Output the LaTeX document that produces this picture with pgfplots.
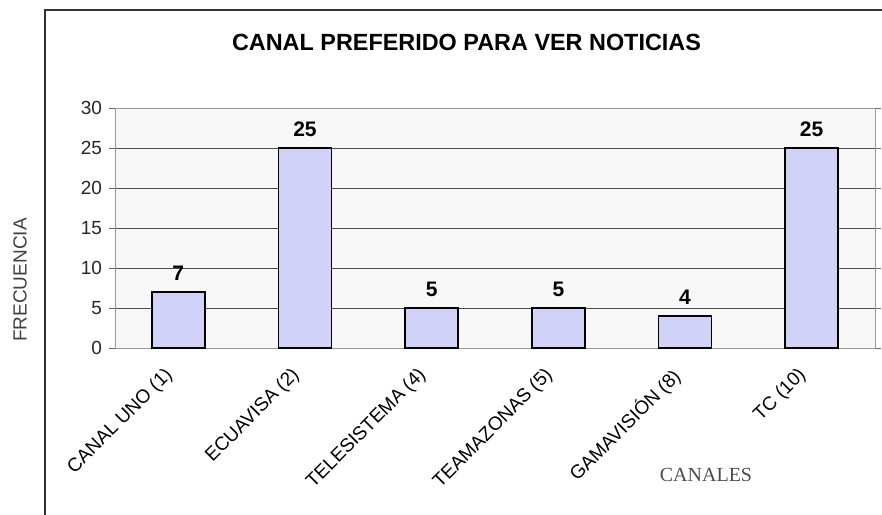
\documentclass[border=0pt]{standalone}
\usepackage{pgfplots}
\pgfplotsset{compat=1.18}
\usepackage{fontspec}
\setmainfont{Liberation Sans}
\newfontfamily\serifcanal{Liberation Serif}
\definecolor{barfill}{RGB}{208,210,248}
\definecolor{plotbg}{RGB}{248,248,248}
\begin{document}
\begin{tikzpicture}
\useasboundingbox (-57.5pt,-83pt) rectangle (383.5pt,174pt);
\draw[line width=0.8pt, black!80] (-35pt,-95pt) -- (-35pt,169pt) -- (395pt,169pt);
\begin{axis}[
  at={(0,0)}, anchor=south west,
  width=380pt, height=120pt, scale only axis,
  xmin=-0.5, xmax=5.5, ymin=0, ymax=30,
  ytick={0,5,10,15,20,25,30},
  xtick={0,1,2,3,4,5},
  xticklabels={CANAL UNO (1),ECUAVISA (2),TELESISTEMA (4),TEAMAZONAS (5),GAMAVISIÓN (8),TC (10)},
  xticklabel style={rotate=45, anchor=north east, font=\fontsize{9.5}{11}\selectfont, xshift=-6pt, yshift=4.6pt},
  yticklabel style={font=\fontsize{9.5}{11}\selectfont, text=black!85},
  /pgf/number format/assume math mode=true,
  x tick style={draw=none},
  y tick style={black!60},
  tick align=outside,
  major tick length=3pt,
  ymajorgrids,
  major grid style={black!70, line width=0.5pt},
  axis line style={black!40},
  axis background/.style={fill=plotbg},
  clip=false,
]
\addplot[ybar, bar width=26.5pt, fill=barfill, draw=black, line width=0.9pt,
  nodes near coords,
  nodes near coords style={font=\bfseries\fontsize{10.5}{12}\selectfont, yshift=2pt}]
  coordinates {(0,7) (1,25) (2,5) (3,5) (4,4) (5,25)};
\end{axis}
\node[font=\bfseries\fontsize{11.7}{14}\selectfont] at (175.75pt,153pt) {CANAL PREFERIDO PARA VER NOTICIAS};
\node[rotate=90, font=\fontsize{9.5}{11}\selectfont, text=black!75] at (-47.5pt,34pt) {FRECUENCIA};
\node[font=\serifcanal\fontsize{10}{12}\selectfont, text=black!70] at (295.5pt,-63.5pt) {CANALES};
\end{tikzpicture}
\end{document}
